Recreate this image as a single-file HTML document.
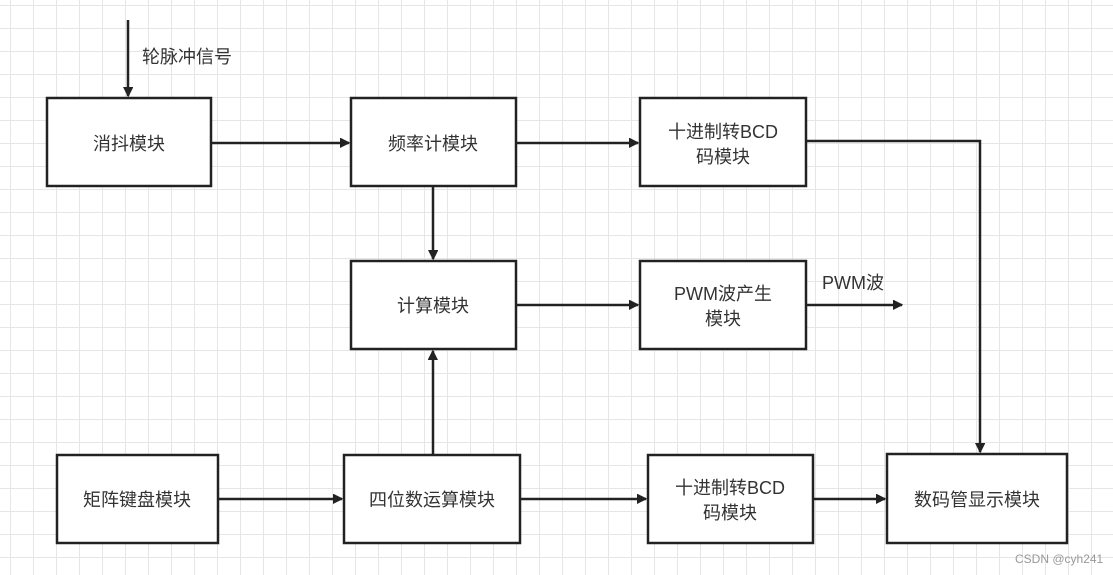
<!DOCTYPE html>
<html><head><meta charset="utf-8"><style>
body{margin:0;width:1113px;height:575px;overflow:hidden;background:#fff;
background-image:linear-gradient(#e6e6e6 1px,transparent 1px),linear-gradient(90deg,#e6e6e6 1px,transparent 1px);
background-size:23px 23px;background-position:10px 5px;}
svg{position:absolute;left:0;top:0}
text{font-family:"Liberation Sans","Noto Sans CJK SC",sans-serif;font-size:18px;fill:#333}
</style></head><body>
<svg width="1113" height="575">
<defs><marker id="a" markerWidth="10" markerHeight="10" refX="9" refY="5" orient="auto" markerUnits="userSpaceOnUse"><path d="M0,0 L10,5 L0,10 Z" fill="#222" transform="scale(1.6) translate(-3.5,-2)"/></marker></defs>
<g fill="#fff" stroke="#222" stroke-width="2.5">
<rect x="47" y="98" width="164" height="88"/>
<rect x="351" y="98" width="165" height="88"/>
<rect x="640" y="98" width="166" height="88"/>
<rect x="351" y="261" width="165" height="88"/>
<rect x="640" y="261" width="166" height="88"/>
<rect x="57" y="455" width="161" height="88"/>
<rect x="344" y="455" width="176" height="88"/>
<rect x="648" y="455" width="165" height="88"/>
<rect x="887" y="454" width="180" height="89"/>
</g>
<g stroke="#222" stroke-width="2.5" fill="none" marker-end="url(#a)">
<line x1="128" y1="20" x2="128" y2="96"/>
<line x1="211" y1="143" x2="349" y2="143"/>
<line x1="516" y1="143" x2="638" y2="143"/>
<line x1="433" y1="186" x2="433" y2="259"/>
<line x1="516" y1="305" x2="638" y2="305"/>
<line x1="806" y1="305" x2="902" y2="305"/>
<polyline points="806,141 980,141 980,452"/>
<line x1="218" y1="499" x2="342" y2="499"/>
<line x1="433" y1="455" x2="433" y2="351"/>
<line x1="520" y1="499" x2="646" y2="499"/>
<line x1="813" y1="499" x2="885" y2="499"/>
</g>
<g text-anchor="middle">
<text x="129" y="150">消抖模块</text>
<text x="433" y="150">频率计模块</text>
<text x="723" y="138">十进制转BCD</text>
<text x="723" y="163">码模块</text>
<text x="433" y="312">计算模块</text>
<text x="723" y="300">PWM波产生</text>
<text x="723" y="325">模块</text>
<text x="137" y="506">矩阵键盘模块</text>
<text x="432" y="506">四位数运算模块</text>
<text x="730" y="494">十进制转BCD</text>
<text x="730" y="519">码模块</text>
<text x="977" y="506">数码管显示模块</text>
</g>
<text x="142" y="63">轮脉冲信号</text>
<text x="822" y="289">PWM波</text>
<text x="1015" y="563" style="font-size:12px;fill:#999">CSDN @cyh241</text>
</svg>
</body></html>
